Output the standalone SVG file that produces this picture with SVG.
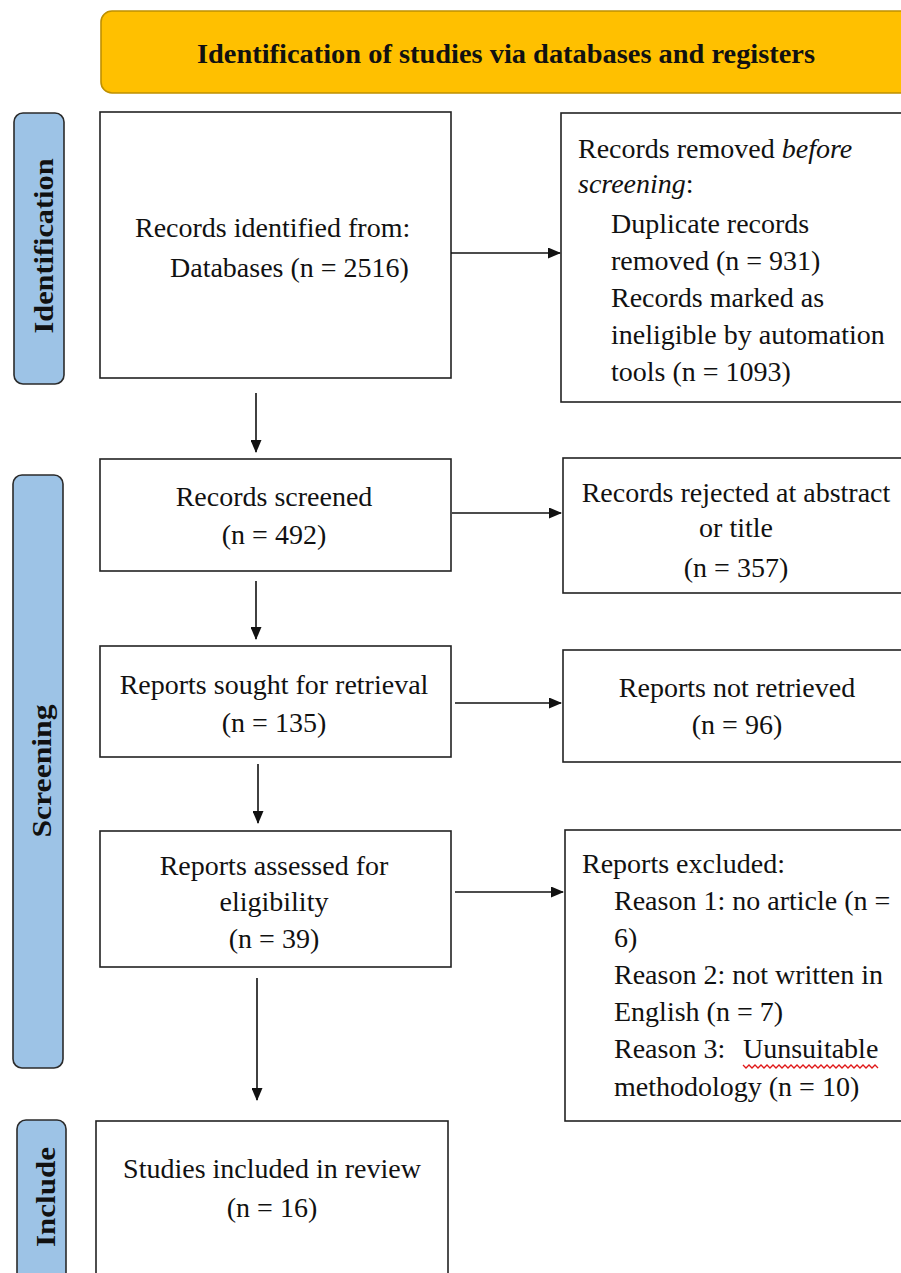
<svg xmlns="http://www.w3.org/2000/svg" width="901" height="1273" viewBox="0 0 901 1273">
<style>
.box{fill:#fff;stroke:#222;stroke-width:1.6}
.side{fill:#9DC3E6;stroke:#2b2b2b;stroke-width:1.6}
.t{font-family:"Liberation Serif","Times New Roman",serif;font-size:28px;fill:#111}
.c{text-anchor:middle}
.b{font-family:"Liberation Serif","Times New Roman",serif;font-weight:bold;font-size:28px;fill:#111;text-anchor:middle}
.i{font-style:italic}
.conn line{stroke:#111;stroke-width:1.6;marker-end:url(#ah)}
</style>
<defs>
<marker id="ah" markerWidth="13" markerHeight="11" refX="12" refY="5.5" orient="auto" markerUnits="userSpaceOnUse">
<path d="M0,0 L13,5.5 L0,11 Z" fill="#111"/>
</marker>
</defs>
<rect width="901" height="1273" fill="#fff"/>

<g id="banner">
<rect x="101" y="11" width="830" height="82" rx="11" fill="#FFC000" stroke="#BF9000" stroke-width="1.6"/>
<text class="b" x="506" y="63" textLength="618" lengthAdjust="spacingAndGlyphs">Identification of studies via databases and registers</text>
</g>

<g id="label-identification">
<rect class="side" x="14" y="113" width="50" height="271" rx="9"/>
<text class="b" transform="translate(53,246) rotate(-90)" textLength="175" lengthAdjust="spacingAndGlyphs">Identification</text>
</g>
<g id="label-screening">
<rect class="side" x="13" y="475" width="50" height="593" rx="9"/>
<text class="b" transform="translate(51,771) rotate(-90)" textLength="133" lengthAdjust="spacingAndGlyphs">Screening</text>
</g>
<g id="label-include">
<rect class="side" x="17" y="1120" width="49" height="170" rx="9"/>
<text class="b" transform="translate(55,1197) rotate(-90)" textLength="100" lengthAdjust="spacingAndGlyphs">Include</text>
</g>

<g id="records-identified">
<rect class="box" x="100" y="112" width="351" height="266"/>
<text class="t" x="135" y="237">Records identified from:</text>
<text class="t" x="170" y="277">Databases (n = 2516)</text>
</g>

<g id="records-removed">
<rect class="box" x="561" y="113" width="360" height="289"/>
<text class="t" x="578" y="158">Records removed <tspan class="i">before</tspan></text>
<text class="t" x="578" y="193"><tspan class="i">screening</tspan>:</text>
<text class="t" x="611" y="233">Duplicate records</text>
<text class="t" x="611" y="270">removed (n = 931)</text>
<text class="t" x="611" y="307">Records marked as</text>
<text class="t" x="611" y="344">ineligible by automation</text>
<text class="t" x="611" y="381">tools (n = 1093)</text>
</g>

<g id="records-screened">
<rect class="box" x="100" y="459" width="351" height="112"/>
<text class="t c" x="274" y="506">Records screened</text>
<text class="t c" x="274" y="544">(n = 492)</text>
</g>

<g id="records-rejected">
<rect class="box" x="563" y="458" width="360" height="135"/>
<text class="t c" x="736" y="502">Records rejected at abstract</text>
<text class="t c" x="736" y="537">or title</text>
<text class="t c" x="736" y="577">(n = 357)</text>
</g>

<g id="reports-sought">
<rect class="box" x="100" y="646" width="351" height="111"/>
<text class="t c" x="274" y="694">Reports sought for retrieval</text>
<text class="t c" x="274" y="732">(n = 135)</text>
</g>

<g id="reports-not-retrieved">
<rect class="box" x="563" y="650" width="360" height="112"/>
<text class="t c" x="737" y="697">Reports not retrieved</text>
<text class="t c" x="737" y="734">(n = 96)</text>
</g>

<g id="reports-assessed">
<rect class="box" x="100" y="831" width="351" height="136"/>
<text class="t c" x="274" y="875">Reports assessed for</text>
<text class="t c" x="274" y="911">eligibility</text>
<text class="t c" x="274" y="948">(n = 39)</text>
</g>

<g id="reports-excluded">
<rect class="box" x="565" y="830" width="360" height="291"/>
<text class="t" x="582" y="873">Reports excluded:</text>
<text class="t" x="614" y="910">Reason 1: no article (n =</text>
<text class="t" x="614" y="947">6)</text>
<text class="t" x="614" y="984">Reason 2: not written in</text>
<text class="t" x="614" y="1021">English (n = 7)</text>
<text class="t" x="614" y="1058">Reason 3:<tspan x="743">Uunsuitable</tspan></text>
<path d="M743,1065 l3,3 l3,-3 l3,3 l3,-3 l3,3 l3,-3 l3,3 l3,-3 l3,3 l3,-3 l3,3 l3,-3 l3,3 l3,-3 l3,3 l3,-3 l3,3 l3,-3 l3,3 l3,-3 l3,3 l3,-3 l3,3 l3,-3 l3,3 l3,-3 l3,3 l3,-3 l3,3 l3,-3 l3,3 l3,-3 l3,3 l3,-3 l3,3 l3,-3 l3,3 l3,-3 l3,3 l3,-3 l3,3 l3,-3 l3,3 l3,-3 l3,3" fill="none" stroke="#e01818" stroke-width="1.3"/>
<text class="t" x="614" y="1096">methodology (n = 10)</text>
</g>

<g id="studies-included">
<rect class="box" x="96" y="1121" width="352" height="170"/>
<text class="t c" x="272" y="1178">Studies included in review</text>
<text class="t c" x="272" y="1217">(n = 16)</text>
</g>

<g id="connectors" class="conn">
<line x1="451" y1="253" x2="560" y2="253"/>
<line x1="256" y1="393" x2="256" y2="452"/>
<line x1="452" y1="513" x2="561" y2="513"/>
<line x1="256" y1="581" x2="256" y2="639"/>
<line x1="455" y1="703" x2="561" y2="703"/>
<line x1="258" y1="764" x2="258" y2="823"/>
<line x1="455" y1="892" x2="563" y2="892"/>
<line x1="257" y1="978" x2="257" y2="1100"/>
</g>
</svg>
